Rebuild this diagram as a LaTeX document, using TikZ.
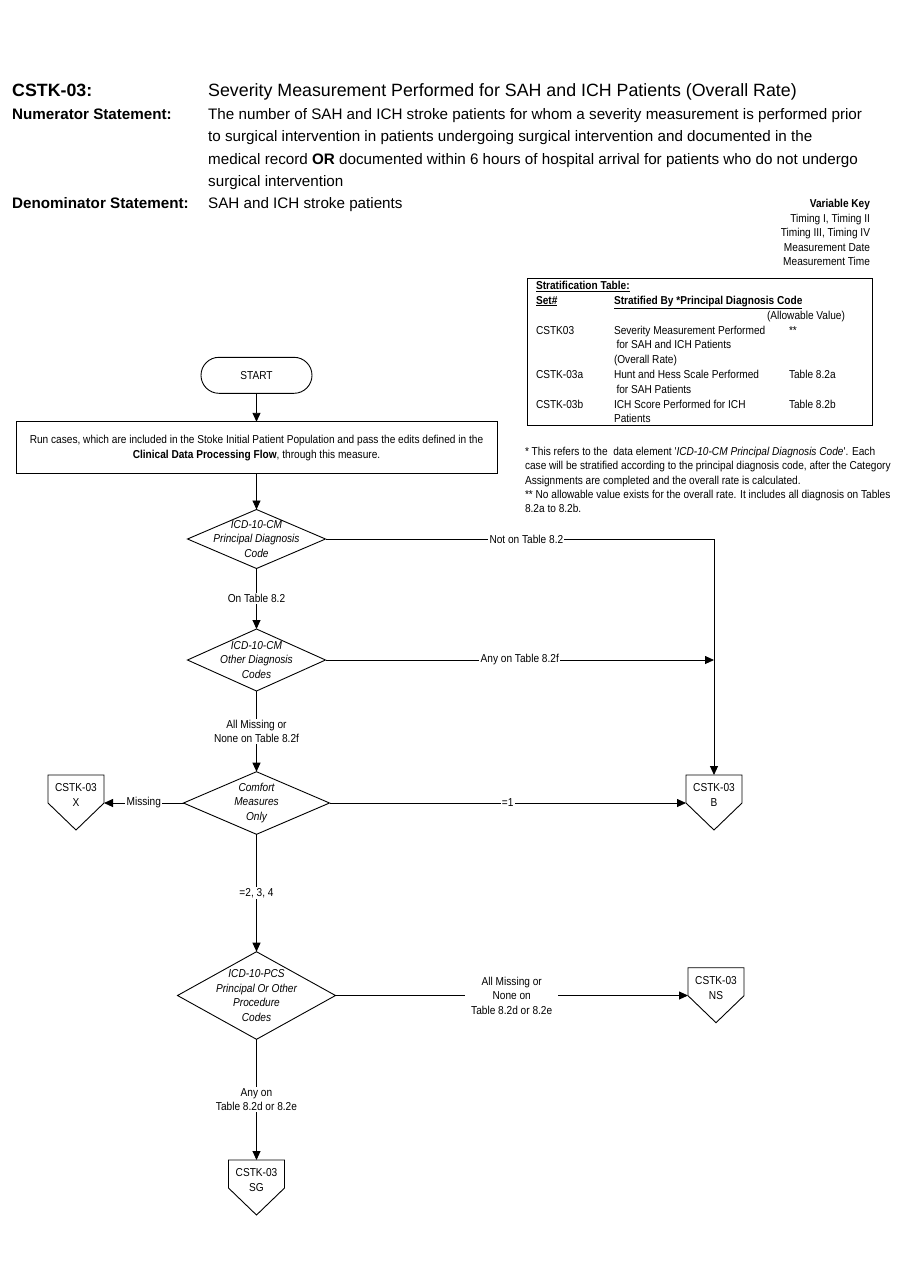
\documentclass[tikz,border=0pt]{standalone}
\usepackage{fontspec}
\setmainfont{Liberation Sans}
\newfontfamily\nar{Liberation Sans}[FakeStretch=0.88]
\usetikzlibrary{shapes.geometric,arrows.meta,calc}
\begin{document}
\begin{tikzpicture}[x=1pt,y=-1pt,
  ln/.style={line width=0.9pt},
  arr/.style={ln,-{Triangle[length=9pt,width=8pt]}},
  sm/.style={inner sep=0pt,outer sep=0pt,font=\nar\fontsize{11.5}{14.5}\selectfont},
  smit/.style={sm,font=\nar\itshape\fontsize{11.5}{14.7}\selectfont,align=center},
  lbl/.style={sm,fill=white,inner sep=1.2pt,align=center},
  hd/.style={inner sep=0pt,anchor=base west,font=\fontsize{15.2}{18}\selectfont},
  hdb/.style={hd,font=\bfseries\fontsize{15.2}{18}\selectfont},
  tb/.style={sm,anchor=base west},
  dia/.style={ln,draw,diamond,inner sep=0pt,outer sep=0pt},
  term/.style={ln,draw,rounded corners=18pt,minimum width=111pt,minimum height=36pt,sm,inner sep=0pt},
  proc/.style={ln,draw,minimum width=481pt,minimum height=52pt,sm,align=center,inner sep=0pt},
  off/.style={inner sep=0pt,outer sep=0pt,minimum width=56pt,minimum height=28pt},
  offt/.style={sm,align=center,font=\nar\fontsize{11.5}{15}\selectfont},
]
\fill[white] (0,0) rectangle (900,1286);
\useasboundingbox (0,0) rectangle (900,1286);

% ---------- header ----------
\node[hdb,font=\bfseries\fontsize{17.8}{20}\selectfont] (ttl) at (12,96) {CSTK-03:};
\node[hd,font=\fontsize{17.8}{20}\selectfont] (ttlt) at (208,96) {Severity Measurement Performed for SAH and ICH Patients (Overall Rate)};
\node[hdb] (numl) at (12,119) {Numerator Statement:};
\node[hd] (num1) at (208,119) {The number of SAH and ICH stroke patients for whom a severity measurement is performed prior};
\node[hd] (num2) at (208,141.5) {to surgical intervention in patients undergoing surgical intervention and documented in the};
\node[hd] (num3) at (208,164.5) {medical record \textbf{OR} documented within 6 hours of hospital arrival for patients who do not undergo};
\node[hd] (num4) at (208,186) {surgical intervention};
\node[hdb] (denl) at (12,208.5) {Denominator Statement:};
\node[hd] (den) at (208,208.5) {SAH and ICH stroke patients};

% ---------- variable key ----------
\node[sm,anchor=base east,font=\nar\bfseries\fontsize{11.5}{14}\selectfont] (vk) at (870,207.3) {Variable Key};
\node[sm,anchor=base east] (vk1) at (870,222) {Timing I, Timing II};
\node[sm,anchor=base east] (vk2) at (870,236.3) {Timing III,  Timing IV};
\node[sm,anchor=base east] (vk3) at (870,251) {Measurement Date};
\node[sm,anchor=base east] (vk4) at (870,265.7) {Measurement Time};

% ---------- stratification table ----------
\draw[line width=1pt] (527,278) rectangle (872,425);
\node[tb] (st0) at (536,289.7) {\underline{\textbf{Stratification Table:}}};
\node[tb] (st1) at (536,304) {\underline{\textbf{Set\#}}};
\node[tb] (st2) at (614,304) {\underline{\textbf{Stratified By *Principal Diagnosis Code}}};
\node[sm,anchor=base east] (st3) at (845,319.3) {(Allowable Value)};
\node[tb] (r1a) at (536,334) {CSTK03};
\node[tb] (r1b) at (614,334) {Severity Measurement Performed};
\node[tb] (r1c) at (789,334) {**};
\node[tb] (r1d) at (614,348.7) {\hspace*{2.5pt}for SAH and ICH Patients};
\node[tb] (r1e) at (614,363) {(Overall Rate)};
\node[tb] (r2a) at (536,378) {CSTK-03a};
\node[tb] (r2b) at (614,378) {Hunt and Hess Scale Performed};
\node[tb] (r2c) at (789,378) {Table 8.2a};
\node[tb] (r2d) at (614,393.3) {\hspace*{2.5pt}for SAH Patients};
\node[tb] (r3a) at (536,408) {CSTK-03b};
\node[tb] (r3b) at (614,408) {ICH Score Performed for ICH};
\node[tb] (r3c) at (789,408) {Table 8.2b};
\node[tb] (r3d) at (614,422.7) {Patients};

% ---------- footnotes ----------
\node[tb] (fn1) at (525,455) {* This refers to the \ data element '\textit{ICD-10-CM Principal Diagnosis Code}'. Each};
\node[tb] (fn2) at (525,469.7) {case will be stratified according to the principal diagnosis code, after the Category};
\node[tb] (fn3) at (525,484) {Assignments are completed and the overall rate is calculated.};
\node[tb] (fn4) at (525,498.7) {** No allowable value exists for the overall rate. It includes all diagnosis on Tables};
\node[tb] (fn5) at (525,512.7) {8.2a to 8.2b.};

% ---------- flowchart ----------
\node[term] (start) at (256.5,375.3) {START};
\node[proc] (run) at (256.5,447.8) {Run cases, which are included in the Stoke Initial Patient Population and pass the edits defined in the\\\textbf{Clinical Data Processing Flow}, through this measure.};

\node[dia,minimum width=138pt,minimum height=59pt] (d1) at (256.5,539) {};
\node[smit] (d1t) at (d1.center) {ICD-10-CM\\Principal Diagnosis\\Code};
\node[dia,minimum width=138pt,minimum height=62pt] (d2) at (256.5,660) {};
\node[smit] (d2t) at (d2.center) {ICD-10-CM\\Other Diagnosis\\Codes};
\node[dia,minimum width=146pt,minimum height=62.6pt] (d3) at (256.5,803) {};
\node[smit] (d3t) at (d3.center) {Comfort\\Measures\\Only};
\node[dia,minimum width=158pt,minimum height=87.6pt] (d4) at (256.5,995.5) {};
\node[smit] (d4t) at (d4.center) {ICD-10-PCS\\Principal Or Other\\Procedure\\Codes};

\node[off] (X) at (76,789) {};
\node[off] (B) at (714,789) {};
\node[off] (NS) at (716,981.7) {};
\node[off] (SG) at (256.5,1174) {};
\foreach \n in {X,B,NS,SG}
  \draw[ln,line join=miter] (\n.north west) -- (\n.north east) -- (\n.south east) -- ($(\n.south)+(0,27)$) -- (\n.south west) -- cycle;
\node[offt] (Xt) at ($(X.center)+(0,6)$) {CSTK-03\\X};
\node[offt] (Bt) at ($(B.center)+(0,6)$) {CSTK-03\\B};
\node[offt] (NSt) at ($(NS.center)+(0,6)$) {CSTK-03\\NS};
\node[offt] (SGt) at ($(SG.center)+(0,6)$) {CSTK-03\\SG};

% connectors
\draw[arr] (start) -- (run);
\draw[arr] (run) -- (d1);
\draw[arr] (d1) -- node[lbl] {On Table 8.2} (d2);
\draw[arr] (d2) -- node[lbl] {All Missing or\\None on Table 8.2f} (d3);
\draw[arr] (d3) -- node[lbl] {=2, 3, 4} (d4);
\draw[arr] (d4) -- node[lbl] {Any on\\Table 8.2d or 8.2e} (SG);
\draw[arr] (d1.east) -- node[lbl,pos=0.517] {Not on Table 8.2} (d1.east -| B.north) -- (B.north);
\draw[arr] (d2.east) -- node[lbl] {Any on Table 8.2f} (d2.east -| B.north);
\draw[arr] (d3.east) -- node[lbl] {=1} (d3.east -| B.west);
\draw[arr] (d3.west) -- node[lbl] {Missing} (d3.west -| X.east);
\draw[arr] (d4.east) -- node[lbl,inner xsep=6pt] {All Missing or\\None on\\Table 8.2d or 8.2e} (d4.east -| NS.west);
\end{tikzpicture}
\end{document}
